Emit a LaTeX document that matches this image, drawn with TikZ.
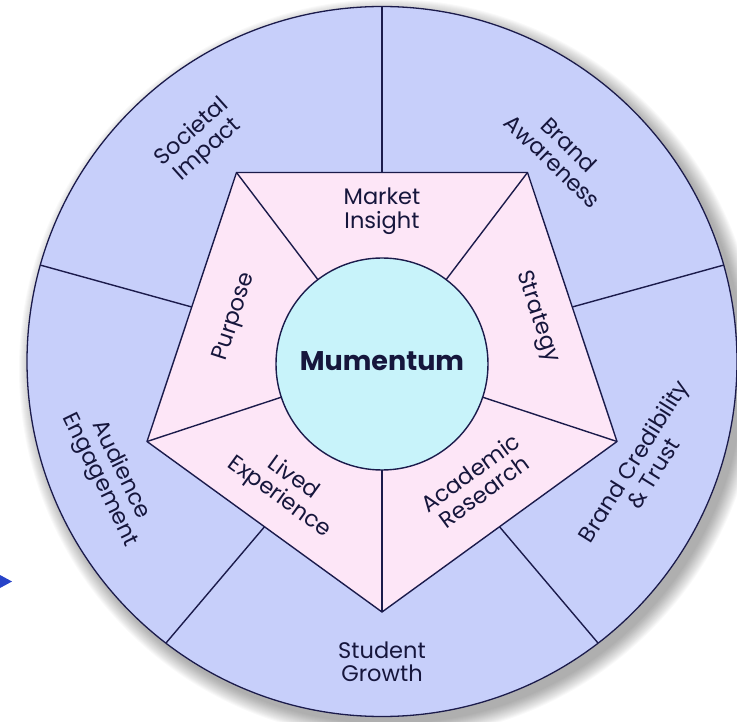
\documentclass[tikz,border=0pt]{standalone}
\usepackage{fontspec}
\setmainfont{Poppins}
\usetikzlibrary{calc}
\definecolor{outerfill}{HTML}{C7CFFA}
\definecolor{pentfill}{HTML}{FDE6F7}
\definecolor{corefill}{HTML}{C8F3FA}
\definecolor{ink}{HTML}{1B1B4B}
\definecolor{txt}{HTML}{16163C}
\definecolor{arrowblue}{HTML}{2743C8}
\tikzset{
  edge/.style={draw=ink, line width=1.4pt},
  lab/.style={text=txt, align=center, inner sep=0pt, font=\fontsize{22.5}{23.5}\selectfont},
  corelab/.style={text=txt, inner sep=0pt, font=\bfseries\fontsize{27}{30}\selectfont},
}
\begin{document}
\begin{tikzpicture}[x=1pt, y=-1pt, line join=round]
\useasboundingbox (0,0) rectangle (737,722);
% soft drop shadow
\foreach \r in {0,...,15}{
  \fill[black, opacity=0.025] (389,369) circle [radius=355+\r];
}
\coordinate (C) at (382,361.5);
\fill[outerfill] (C) circle [radius=355];
% pentagon vertices
\coordinate (P1) at (236.5,172.5);
\coordinate (P2) at (527.5,172.5);
\coordinate (P3) at (617,441.5);
\coordinate (P4) at (382,612);
\coordinate (P5) at (147,441.5);
% outer spoke ends
\coordinate (E1) at (382,6.5);
\coordinate (E2) at (40,265);
\coordinate (E3) at (724,265);
\coordinate (E4) at (166,643);
\coordinate (E5) at (598,643);
\draw[edge] ($(P1)!0.5!(P2)$) -- (E1);
\draw[edge] ($(P1)!0.5!(P5)$) -- (E2);
\draw[edge] ($(P2)!0.5!(P3)$) -- (E3);
\draw[edge] ($(P5)!0.5!(P4)$) -- (E4);
\draw[edge] ($(P4)!0.5!(P3)$) -- (E5);
\draw[draw=ink, line width=1.3pt] (C) circle [radius=355];
% pentagon
\filldraw[edge, fill=pentfill] (P1) -- (P2) -- (P3) -- (P4) -- (P5) -- cycle;
\coordinate (M) at (382,364);
\foreach \p in {P1,P2,P3,P4,P5}{ \draw[edge] (\p) -- (M); }
\node[circle, draw=ink, line width=1.4pt, fill=corefill, minimum size=212pt, inner sep=0pt] (core) at (M) {};
\node[corelab] (mum) at (382,361) {Mumentum};
% inner labels
\node[lab] (market) at (382,211) {Market\\Insight};
\node[lab, rotate=-72] (strat) at (537,317) {Strategy};
\node[lab, rotate=72] (purp) at (235,317) {Purpose};
\node[lab, rotate=-36] (lived) at (286,488) {Lived\\Experience};
\node[lab, rotate=36] (acad) at (477,482) {Academic\\Research};
% outer labels
\node[lab, rotate=42] (soc) at (200,141) {Societal\\Impact};
\node[lab, rotate=-44] (brand) at (561,153) {Brand\\Awareness};
\node[lab, rotate=58] (cred) at (643,467) {Brand Credibility\\\& Trust};
\node[lab, rotate=-64] (aud) at (110,475) {Audience\\Engagement};
\node[lab] (stud) at (382,662) {Student\\Growth};
% partial arrow tip at left edge
\fill[arrowblue] (0,575) -- (12,581.5) -- (0,588) -- cycle;
\end{tikzpicture}
\end{document}
